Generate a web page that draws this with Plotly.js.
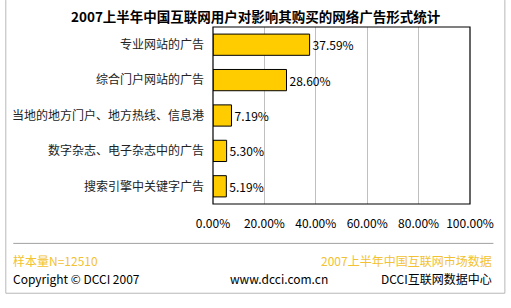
<!DOCTYPE html>
<html>
<head>
<meta charset="utf-8">
<script src="https://cdn.plot.ly/plotly-3.0.1.min.js"></script>
<style>html,body{margin:0;padding:0;background:#fff;}#chart{width:511px;height:308px;}</style>
</head>
<body>
<div id="chart"></div>
<script>
const categories = ["专业网站的广告", "综合门户网站的广告", "当地的地方门户、地方热线、信息港", "数字杂志、电子杂志中的广告", "搜索引擎中关键字广告"];
const values = [37.59, 28.60, 7.19, 5.30, 5.19];
const tickValues = [0, 20, 40, 60, 80, 100];
const tickLabels = ["0.00%", "20.00%", "40.00%", "60.00%", "80.00%", "100.00%"];
const titleText = "2007上半年中国互联网用户对影响其购买的网络广告形式统计";
const sampleNote = "样本量N=12510";
const sourceNote = "2007上半年中国互联网市场数据";
const copyrightText = "Copyright © DCCI 2007";
const siteText = "www.dcci.com.cn";
const orgText = "DCCI互联网数据中心";

const FONT = "'Noto Sans CJK SC', 'DejaVu Sans', sans-serif";
const L = 212.5, R = 470.5, T = 27, B = 204.5;
const px = x => (x - L) / (R - L);
const py = y => (B - y) / (B - T);

const trace = {
  type: 'bar', orientation: 'h',
  y: categories, x: values,
  width: 0.6,
  marker: {color: '#FFCC00', line: {color: '#000', width: 1}},
  text: values.map(v => v.toFixed(2) + '%'),
  textposition: 'outside',
  textfont: {family: FONT, size: 12, color: '#000'},
  cliponaxis: false,
  hoverinfo: 'none'
};

const yellow = '#F2C230';
const ann = (text, x, y, xanchor, color, size) => ({
  text, xref: 'paper', yref: 'paper', x: px(x), y: py(y), xanchor, yanchor: 'middle',
  showarrow: false, font: {family: FONT, size: size || 12, color}
});

const layout = {
  width: 511, height: 308,
  margin: {l: L, r: 511 - R, t: T, b: 308 - B},
  paper_bgcolor: '#fff', plot_bgcolor: '#fff',
  showlegend: false,
  bargap: 0.4,
  xaxis: {
    range: [0, 100], tickvals: tickValues, ticktext: tickLabels,
    showgrid: true, gridcolor: '#c0c0c0', gridwidth: 1,
    zeroline: false, showline: false, ticks: '', ticklabelstandoff: 11,
    tickfont: {family: FONT, size: 12, color: '#000'}, fixedrange: true
  },
  yaxis: {
    type: 'category', range: [4.5, -0.5], showgrid: false, zeroline: false,
    showline: false, ticks: '', ticklabelstandoff: 8,
    tickfont: {family: FONT, size: 12, color: '#222'}, fixedrange: true
  },
  shapes: [
    {type: 'rect', xref: 'paper', yref: 'paper', x0: 0, x1: 1, y0: 0, y1: 1, line: {color: '#000', width: 1.2}},
    {type: 'line', xref: 'paper', yref: 'paper', x0: px(12), x1: px(494), y0: py(244), y1: py(244), line: {color: '#a0a0a0', width: 1}},
    {type: 'line', xref: 'paper', yref: 'paper', x0: px(4.5), x1: px(4.5), y0: py(0), y1: py(294), line: {color: '#b8b8b8', width: 1}},
    {type: 'line', xref: 'paper', yref: 'paper', x0: px(505.5), x1: px(505.5), y0: py(0), y1: py(294), line: {color: '#b8b8b8', width: 1}},
    {type: 'line', xref: 'paper', yref: 'paper', x0: px(4.5), x1: px(505.5), y0: py(294), y1: py(294), line: {color: '#b8b8b8', width: 1}}
  ],
  annotations: [
    Object.assign(ann(titleText, 256, 16, 'center', '#000', 13.5), {font: {family: FONT, size: 13.5, color: '#000', weight: 'bold'}}),
    ann(sampleNote, 10, 261.5, 'left', yellow),
    ann(sourceNote, 495, 261.5, 'right', yellow),
    ann(copyrightText, 10, 279, 'left', '#000'),
    ann(siteText, 279, 279, 'center', '#000'),
    ann(orgText, 495, 279, 'right', '#000')
  ]
};

Plotly.newPlot('chart', [trace], layout, {displayModeBar: false, staticPlot: true});
</script>
</body>
</html>
